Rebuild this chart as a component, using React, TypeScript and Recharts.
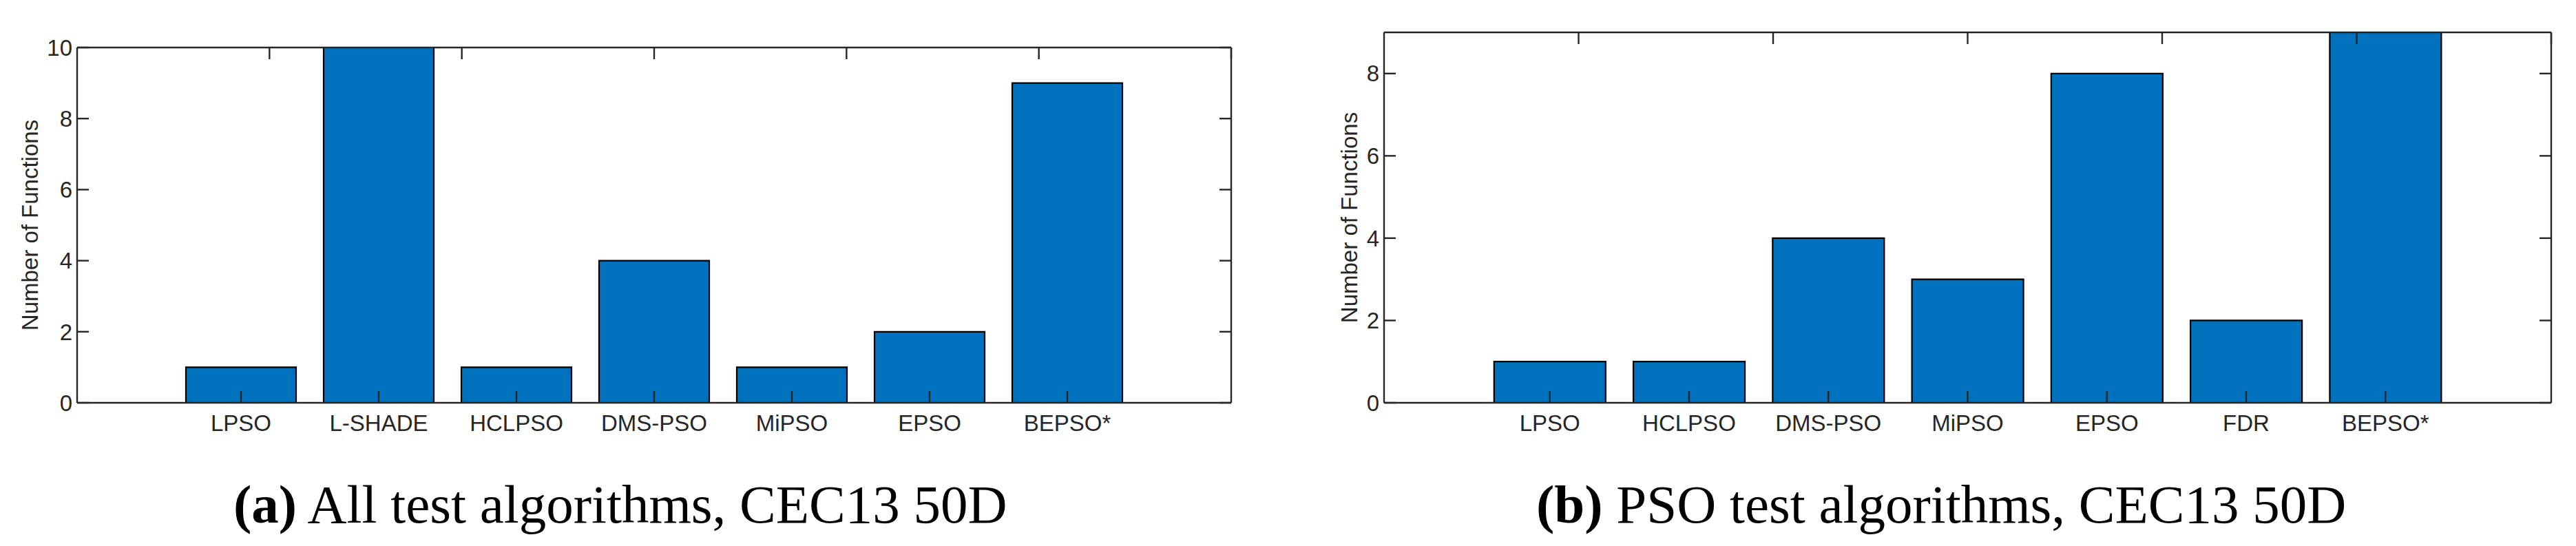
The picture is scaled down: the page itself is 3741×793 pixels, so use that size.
import { BarChart, Bar, XAxis, YAxis } from 'recharts';

// counts of functions on which each algorithm was best
const namesAll = ['LPSO', 'L-SHADE', 'HCLPSO', 'DMS-PSO', 'MiPSO', 'EPSO', 'BEPSO*'];
const countsAll = [1, 10, 1, 4, 1, 2, 9];
const yTicksAll = [0, 2, 4, 6, 8, 10];

const namesPso = ['LPSO', 'HCLPSO', 'DMS-PSO', 'MiPSO', 'EPSO', 'FDR', 'BEPSO*'];
const countsPso = [1, 1, 4, 3, 8, 2, 9];
const yTicksPso = [0, 2, 4, 6, 8];

const AXIS = '#262626';
const SANS = '"Liberation Sans", Arial, Helvetica, sans-serif';
const line = { stroke: AXIS, strokeWidth: 2.4 };

// tick={false} also drops the tick lines, so the box axes get an empty label instead
const NoLabel = () => <g />;

type PanelProps = {
  names: string[];
  counts: number[];
  yTicks: number[];
  yMax: number;
  width: number;
  height: number;
  top: number;
  right: number;
  yAxisWidth: number;
  titleDx: number;
};

const Panel = ({ names, counts, yTicks, yMax, width, height, top, right, yAxisWidth, titleDx }: PanelProps) => {
  const data = names.map((name, i) => ({ pos: i + 1, name, count: counts[i] }));
  const positions = data.map((d) => d.pos);
  const xDomain = [-0.19, names.length + 1.19];

  // the top and right axes only carry the box edge and inward ticks (1px wide so they get drawn)
  return (
    <BarChart
      width={width}
      height={height}
      data={data}
      margin={{ top: top - 1, right: right - 1, bottom: 0, left: 0 }}
      barCategoryGap="10%"
    >
      <Bar dataKey="count" xAxisId="x" yAxisId="y" fill="#0072BD" stroke="#000" strokeWidth={2.2} isAnimationActive={false} />
      <XAxis
        xAxisId="x"
        type="number"
        dataKey="pos"
        domain={xDomain}
        allowDataOverflow
        ticks={positions}
        interval={0}
        tickFormatter={(v) => names[v - 1]}
        tickSize={-17}
        tickMargin={35}
        height={95}
        axisLine={line}
        tickLine={line}
        tick={{ fontSize: 33, fill: AXIS, fontFamily: SANS }}
      />
      <XAxis
        xAxisId="top"
        orientation="top"
        type="number"
        domain={xDomain}
        allowDataOverflow
        ticks={positions}
        interval={0}
        tick={NoLabel}
        tickSize={-17}
        height={1}
        axisLine={line}
        tickLine={line}
      />
      <YAxis
        yAxisId="y"
        type="number"
        domain={[0, yMax]}
        allowDataOverflow
        ticks={yTicks}
        interval={0}
        tickSize={-17}
        tickMargin={24}
        width={yAxisWidth}
        axisLine={line}
        tickLine={line}
        tick={{ fontSize: 33, fill: AXIS, fontFamily: SANS }}
        label={{
          value: 'Number of Functions',
          angle: -90,
          position: 'center',
          dx: titleDx,
          fontSize: 33,
          fill: AXIS,
          fontFamily: SANS,
        }}
      />
      <YAxis
        yAxisId="right"
        orientation="right"
        type="number"
        domain={[0, yMax]}
        allowDataOverflow
        ticks={yTicks}
        interval={0}
        tick={NoLabel}
        tickSize={-17}
        width={1}
        axisLine={line}
        tickLine={line}
      />
    </BarChart>
  );
};

const captionStyle = {
  position: 'absolute' as const,
  top: 693,
  fontFamily: '"Liberation Serif", "Times New Roman", serif',
  fontSize: 79,
  lineHeight: '79px',
  whiteSpace: 'nowrap' as const,
  color: '#000',
};

export default function App() {
  return (
    <div style={{ position: 'relative', width: 3741, height: 793, background: '#fff', overflow: 'hidden' }}>
      <style>{'body{margin:0;}'}</style>
      <div style={{ position: 'absolute', left: 0, top: 0 }}>
        <Panel
          names={namesAll}
          counts={countsAll}
          yTicks={yTicksAll}
          yMax={10}
          width={1830}
          height={680}
          top={69}
          right={42}
          yAxisWidth={112}
          titleDx={-12.5}
        />
      </div>
      <div style={{ position: 'absolute', left: 1880, top: 0 }}>
        <Panel
          names={namesPso}
          counts={countsPso}
          yTicks={yTicksPso}
          yMax={9}
          width={1861}
          height={680}
          top={47}
          right={36}
          yAxisWidth={130}
          titleDx={14}
        />
      </div>
      <div style={{ ...captionStyle, left: 339 }}>
        <b>(a)</b> All test algorithms, CEC13 50D
      </div>
      <div style={{ ...captionStyle, left: 2231 }}>
        <b>(b)</b> PSO test algorithms, CEC13 50D
      </div>
    </div>
  );
}
